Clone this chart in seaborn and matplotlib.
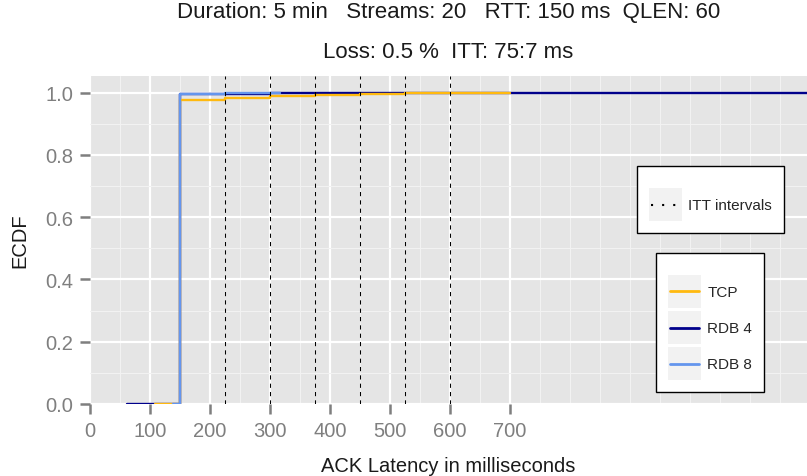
#!/usr/bin/env python3

"""ECDF of ACK latency for TCP vs RDB, ggplot-ish look, redrawn with seaborn."""

import matplotlib
matplotlib.use("Agg")
import matplotlib.pyplot as plt
import pandas as pd
import seaborn as sns
from matplotlib.legend_handler import HandlerBase
from matplotlib.lines import Line2D
from matplotlib.patches import Rectangle

####################################################################################################

# step points (x = ACK latency in ms, y = ECDF)
TCP_X = [108, 150, 225, 300, 375, 450, 525, 700]
TCP_Y = [0.0, 0.977, 0.983, 0.988, 0.992, 0.996, 1.0, 1.0]

RDB4_X = [62, 150, 300, 1195]
RDB4_Y = [0.0, 0.996, 1.0, 1.0]

RDB8_X = [139, 150, 225, 317]
RDB8_Y = [0.0, 0.996, 1.0, 1.0]

SERIES = ["TCP", "RDB 4", "RDB 8"]
COLORS = ["#FFB90F", "#00008B", "#6495ED"]
DRAW_ORDER = ["RDB 4", "TCP", "RDB 8"]  # navy sits under the other two

# ITT interval markers
ITT_LINES = [225, 300, 375, 450, 525, 600]

X_TICKS = [0, 100, 200, 300, 400, 500, 600, 700]
Y_TICKS = [0.0, 0.2, 0.4, 0.6, 0.8, 1.0]

TITLE_1 = "Duration: 5 min   Streams: 20   RTT: 150 ms  QLEN: 60"
TITLE_2 = "Loss: 0.5 %  ITT: 75:7 ms"

####################################################################################################

df = pd.concat([
    pd.DataFrame({"latency": TCP_X, "ecdf": TCP_Y, "series": "TCP"}),
    pd.DataFrame({"latency": RDB4_X, "ecdf": RDB4_Y, "series": "RDB 4"}),
    pd.DataFrame({"latency": RDB8_X, "ecdf": RDB8_Y, "series": "RDB 8"}),
], ignore_index=True)

sns.set_style("white")
plt.rcParams["font.family"] = ["Liberation Sans", "DejaVu Sans"]

GREY_TXT = "#7F7F7F"
W, H = 807, 477

fig = plt.figure(figsize=(W / 100, H / 100), dpi=100)
ax = fig.add_axes([90 / W, 1 - 405 / H, (W - 90) / W, (405 - 76.7) / H])
ax.set_facecolor("#E5E5E5")

sns.lineplot(
    data=df,
    x="latency",
    y="ecdf",
    hue="series",
    hue_order=DRAW_ORDER,
    palette=dict(zip(SERIES, COLORS)),
    estimator=None,
    sort=False,
    drawstyle="steps-post",
    linewidth=1.7,
    legend=False,
    ax=ax,
)

for itt in ITT_LINES:
    ax.axvline(itt, color="black", lw=0.75, ls=(0, (4, 4)), zorder=5)

ax.set_xlim(0, 1195)
ax.set_ylim(0, 1.054)

# grid: major only up to 700, minor every 50 across the panel
ax.set_xticks(X_TICKS)
ax.set_xticks([v for v in range(50, 1200, 50) if not (v % 100 == 0 and v <= 700)], minor=True)
ax.set_yticks(Y_TICKS)
ax.set_yticklabels([f"{v:.1f}" for v in Y_TICKS])
ax.set_yticks([0.1, 0.3, 0.5, 0.7, 0.9], minor=True)
ax.set_axisbelow(True)
ax.grid(which="major", color="white", lw=1.6)
ax.grid(which="minor", color="#F2F2F2", lw=0.8)

for s in ax.spines.values():
    s.set_visible(False)
ax.tick_params(which="major", direction="out", length=7, width=1.8, color=GREY_TXT,
               labelcolor=GREY_TXT, labelsize=14.5, pad=5, bottom=True, left=True)
ax.tick_params(which="minor", length=0)

ax.set_xlabel("ACK Latency in milliseconds", fontsize=14.5, color="#1A1A1A")
ax.xaxis.label.set_va("baseline")
ax.xaxis.set_label_coords(0.5, (405 - 472) / (405 - 76.7))
ax.set_ylabel("ECDF", fontsize=14.5, color="#1A1A1A", va="center", ha="center")
ax.yaxis.set_label_coords((20 - 90) / (W - 90), 0.5)

cx = (90 + W) / 2 / W
fig.text(cx, 1 - 18 / H, TITLE_1, ha="center", va="baseline", fontsize=16, color="#1A1A1A")
fig.text(cx, 1 - 58 / H, TITLE_2, ha="center", va="baseline", fontsize=16, color="#1A1A1A")

###################################################################################################
# legends with the grey key boxes


class KeyHandler(HandlerBase):
    def create_artists(self, legend, orig_handle, xdescent, ydescent, width, height,
                       fontsize, trans):
        bg = Rectangle((-xdescent, -ydescent), width, height, facecolor="#F2F2F2",
                       edgecolor="none", transform=trans)
        pad = 0.15 * fontsize
        yc = -ydescent + height / 2
        line = Line2D([-xdescent + pad, -xdescent + width - pad], [yc, yc],
                      color=orig_handle.get_color(), lw=orig_handle.get_linewidth(),
                      ls=orig_handle.get_linestyle(), transform=trans)
        line.set_dashes(orig_handle._unscaled_dash_pattern[1]) if orig_handle._unscaled_dash_pattern[1] else None
        return [bg, line]


leg_kws = dict(
    fontsize=11,
    title=" ",
    title_fontsize=5,
    frameon=True,
    fancybox=False,
    edgecolor="black",
    facecolor="white",
    framealpha=1,
    handlelength=2.16,
    handleheight=2.95,
    labelspacing=0.2,
    handletextpad=0.42,
    borderpad=0.78,
    borderaxespad=0,
    loc="upper left",
    bbox_transform=fig.transFigure,
    handler_map={Line2D: KeyHandler()},
)

itt_handle = Line2D([], [], color="black", lw=1.5, ls=(0, (1, 4.33)))
leg1 = ax.legend([itt_handle], ["ITT intervals"],
                 bbox_to_anchor=(636.7 / W, 1 - 167.3 / H), **leg_kws)
leg1.get_frame().set_linewidth(1)
ax.add_artist(leg1)

ser_handles = [Line2D([], [], color=c, lw=2) for c in COLORS]
leg2 = ax.legend(ser_handles, SERIES, bbox_to_anchor=(656 / W, 1 - 254 / H), **leg_kws)
leg2.get_frame().set_linewidth(1)

plt.savefig("out.png", dpi=100)
